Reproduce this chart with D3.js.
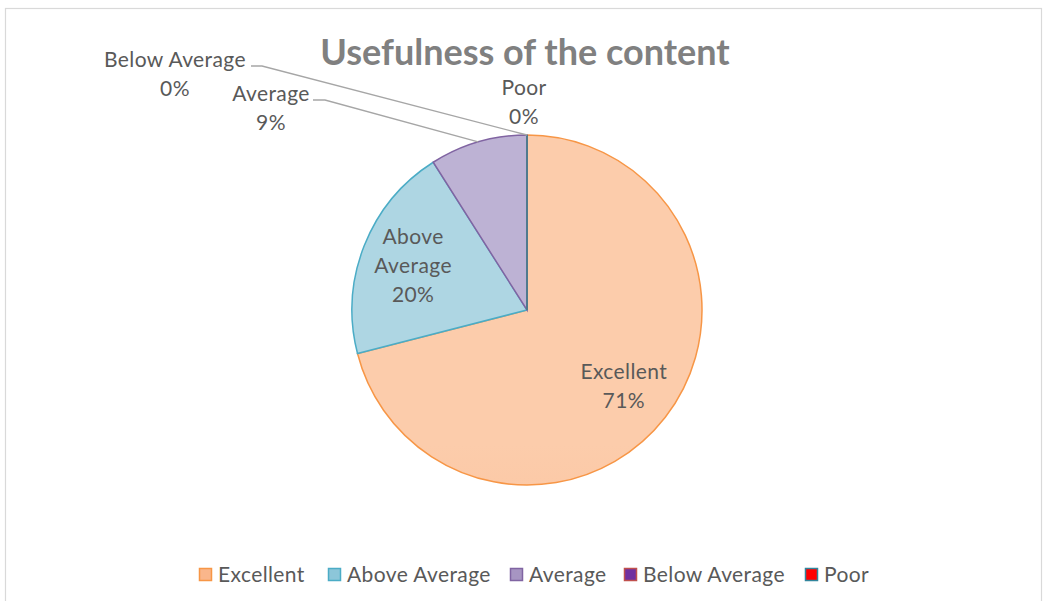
<!DOCTYPE html>
<html>
<head>
<meta charset="utf-8">
<script src="https://cdn.jsdelivr.net/npm/d3@7"></script>
<style>
  body { margin: 0; background: #fff; }
  text { font-family: Lato, "Open Sans", sans-serif; }
</style>
</head>
<body>
<div id="chart"></div>
<script>
// data
const categories = ["Excellent", "Above Average", "Average", "Below Average", "Poor"];
const values = [71, 20, 9, 0, 0];
const percentLabels = ["71%", "20%", "9%", "0%", "0%"];

// colours per slice: top of gradient, bottom of gradient, outline
const fillTop = ["#fcccab", "#aed6e3", "#bdb2d4", "#7030a0", "#ff0000"];
const fillBottom = ["#fab68b", "#8cc6d9", "#a795c2", "#7030a0", "#ff0000"];
const strokes = ["#f79646", "#4bacc6", "#8064a2", "#c0504d", "#31859c"];

const width = 1048, height = 601;
const cx = 527, cy = 310, radius = 175;

const svg = d3.select("#chart").append("svg")
  .attr("width", width)
  .attr("height", height);

// chart area border
svg.append("rect")
  .attr("x", 5.5).attr("y", 8.5)
  .attr("width", 1036).attr("height", 600)
  .attr("fill", "#fff")
  .attr("stroke", "#d9d9d9")
  .attr("stroke-width", 1.2);

// gradients
const defs = svg.append("defs");
categories.forEach((c, i) => {
  const g = defs.append("linearGradient")
    .attr("id", "grad" + i)
    .attr("gradientUnits", "userSpaceOnUse")
    .attr("x1", 0).attr("y1", cy - radius)
    .attr("x2", 0).attr("y2", cy + radius);
  g.append("stop").attr("offset", "0%").attr("stop-color", fillTop[i]);
  g.append("stop").attr("offset", "100%").attr("stop-color", fillBottom[i]);
});

// title
svg.append("text")
  .attr("x", 525).attr("y", 65)
  .attr("text-anchor", "middle")
  .style("font-size", "36px")
  .style("font-weight", "bold")
  .attr("fill", "#808080")
  .text("Usefulness of the content");

const pie = d3.pie().sort(null).value(d => d)(values);
const arc = d3.arc().innerRadius(0).outerRadius(radius);

const gPie = svg.append("g").attr("transform", `translate(${cx},${cy})`);

gPie.selectAll("path")
  .data(pie)
  .join("path")
  .attr("d", arc)
  .attr("fill", (d, i) => `url(#grad${i})`)
  .attr("stroke", (d, i) => strokes[i])
  .attr("stroke-width", 1.5);

const labelColor = "#595959";
const fs = 21;
const ls = "0.4px";

// labels inside the two bigger slices
const inner = d3.arc().innerRadius(radius * 0.7).outerRadius(radius * 0.7);
[[0, ["Excellent", "71%"]], [1, ["Above", "Average", "20%"]]].forEach(([i, lines]) => {
  const [x, y] = inner.centroid(pie[i]);
  const t = gPie.append("text")
    .attr("text-anchor", "middle")
    .attr("fill", labelColor)
    .style("font-size", fs + "px")
    .style("letter-spacing", ls);
  const lh = 29;
  lines.forEach((l, k) => {
    t.append("tspan")
      .attr("x", x)
      .attr("y", y + (k - (lines.length - 1) / 2) * lh + 8)
      .text(l);
  });
});

// labels outside for the small slices, with leader lines
const outside = [
  { i: 2, lx: 271, ly: 94, lineStart: [313, 100], elbow: [325, 100] },
  { i: 3, lx: 175, ly: 60, lineStart: [251, 66], elbow: [262, 66] },
  { i: 4, lx: 524, ly: 88, lineStart: null, elbow: null }
];
outside.forEach(o => {
  const t = svg.append("text")
    .attr("text-anchor", "middle")
    .attr("fill", labelColor)
    .style("font-size", fs + "px")
    .style("letter-spacing", ls);
  t.append("tspan").attr("x", o.lx).attr("y", o.ly + 7).text(categories[o.i]);
  t.append("tspan").attr("x", o.lx).attr("y", o.ly + 36).text(percentLabels[o.i]);
  if (o.lineStart) {
    const a = (pie[o.i].startAngle + pie[o.i].endAngle) / 2;
    const ex = cx + Math.sin(a) * radius, ey = cy - Math.cos(a) * radius;
    svg.append("polyline")
      .attr("points", [o.lineStart, o.elbow, [ex, ey]].map(p => p.join(",")).join(" "))
      .attr("fill", "none")
      .attr("stroke", "#a6a6a6")
      .attr("stroke-width", 1.3);
  }
});

// legend
const legendX = [199, 328, 510, 624, 805];
const legend = svg.append("g");
categories.forEach((c, i) => {
  legend.append("rect")
    .attr("x", legendX[i] + 0.5).attr("y", 568.5)
    .attr("width", 12).attr("height", 12)
    .attr("fill", fillBottom[i])
    .attr("stroke", strokes[i])
    .attr("stroke-width", 1.5);
  legend.append("text")
    .attr("x", legendX[i] + 19).attr("y", 582)
    .attr("fill", labelColor)
    .style("font-size", fs + "px")
    .style("letter-spacing", ls)
    .text(c);
});
</script>
</body>
</html>
